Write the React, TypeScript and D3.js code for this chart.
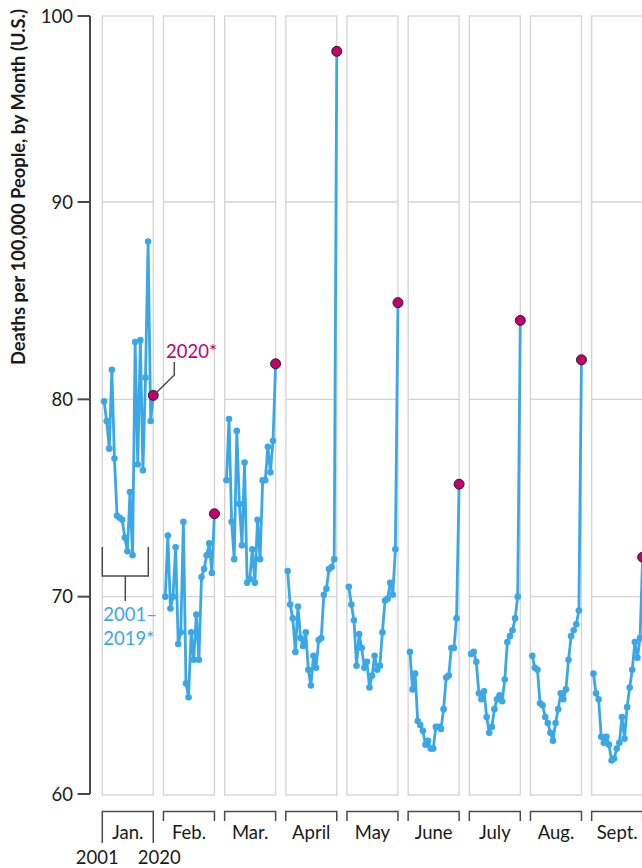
import React from "react";
import * as d3 from "d3";

const months = ["Jan.", "Feb.", "Mar.", "April", "May", "June", "July", "Aug.", "Sept."];
const years = [2001, 2002, 2003, 2004, 2005, 2006, 2007, 2008, 2009, 2010, 2011, 2012, 2013, 2014, 2015, 2016, 2017, 2018, 2019, 2020];
const yTicks = [60, 70, 80, 90, 100];
const gridTicks = [70, 80, 90];

const jan = [79.9, 78.9, 77.5, 81.5, 77.0, 74.1, 74.0, 73.9, 73.0, 72.3, 75.3, 72.1, 82.9, 76.7, 83.0, 76.4, 81.1, 88.0, 78.9, 80.2];
const feb = [70.0, 73.1, 69.4, 70.0, 72.5, 67.6, 68.2, 73.8, 65.6, 64.9, 68.2, 66.8, 69.1, 66.8, 71.0, 71.4, 72.1, 72.7, 71.2, 74.2];
const mar = [75.9, 79.0, 73.8, 71.9, 78.4, 74.7, 72.6, 76.8, 70.7, 70.9, 72.4, 70.7, 73.9, 71.9, 75.9, 75.9, 77.6, 76.3, 77.9, 81.8];
const apr = [71.3, 69.6, 68.9, 67.2, 69.5, 67.9, 67.5, 68.2, 66.3, 65.5, 67.0, 66.4, 67.8, 67.9, 70.1, 70.4, 71.4, 71.5, 71.9, 98.1];
const may = [70.5, 69.6, 68.8, 66.5, 68.1, 67.4, 66.4, 66.7, 65.4, 66.0, 67.0, 66.3, 66.5, 68.2, 69.8, 69.9, 70.7, 70.1, 72.4, 84.9];
const jun = [67.2, 65.3, 66.1, 63.7, 63.5, 63.2, 62.5, 62.7, 62.3, 62.3, 63.4, 63.4, 63.3, 64.3, 65.9, 66.0, 67.4, 67.4, 68.9, 75.7];
const jul = [67.1, 67.2, 66.7, 65.1, 64.8, 65.2, 63.9, 63.1, 63.4, 64.3, 64.8, 65.0, 64.7, 65.8, 67.7, 68.0, 68.3, 68.9, 70.0, 84.0];
const aug = [67.0, 66.4, 66.3, 64.6, 64.5, 63.9, 63.6, 63.1, 62.7, 63.6, 64.3, 65.1, 64.8, 65.3, 66.8, 68.0, 68.3, 68.6, 69.3, 82.0];
const sep = [66.1, 65.1, 64.8, 62.9, 62.6, 62.9, 62.5, 61.7, 61.8, 62.3, 62.6, 63.9, 62.8, 64.4, 65.4, 66.3, 67.7, 66.9, 67.9, 72.0];

const series = [jan, feb, mar, apr, may, jun, jul, aug, sep];

const BLUE = "#3aa8e6";
const MAGENTA = "#c4006f";
const GRID = "#d3d3d3";
const AXIS = "#4a4a4a";
const FONT = "Lato, 'Open Sans', sans-serif";

export default function App() {
  const W = 642;
  const H = 868;
  const axisX = 90;
  const x0 = 102.3;
  const step = 61.17;

  const band = d3
    .scaleBand<string>()
    .domain(months)
    .range([x0, x0 + step * (months.length - 1 / 6)])
    .paddingInner(1 / 6)
    .paddingOuter(0);

  const y = d3.scaleLinear().domain([60, 90, 100]).range([794, 202, 16]);
  const bw = band.bandwidth();

  return (
    <svg
      width={W}
      height={H}
      style={{ position: "absolute", left: 0, top: 0, background: "#fff" }}
      fontFamily={FONT}
    >
      {/* panels */}
      {months.map((m) => {
        const left = band(m)!;
        return (
          <g key={m}>
            <rect x={left} y={y(100)} width={bw} height={y(60) - y(100) + 1} fill="none" stroke={GRID} strokeWidth={1.3} />
            {gridTicks.map((t) => (
              <line key={t} x1={left} x2={left + bw} y1={y(t)} y2={y(t)} stroke={GRID} strokeWidth={1.3} />
            ))}
          </g>
        );
      })}

      {/* y axis */}
      <line x1={axisX} x2={axisX} y1={y(100)} y2={y(60)} stroke={AXIS} strokeWidth={2} />
      {yTicks.map((t) => (
        <g key={t}>
          <line x1={axisX - 12.5} x2={axisX} y1={y(t)} y2={y(t)} stroke={AXIS} strokeWidth={2} />
          <text x={axisX - 17} y={y(t) + 6.5} textAnchor="end" fontSize={18.5} fill="#1a1a1a">
            {t}
          </text>
        </g>
      ))}
      <text
        transform={`translate(25, 187) rotate(-90)`}
        textAnchor="middle"
        fontSize={18.6}
        fontWeight="bold"
        fill="#1a1a1a"
        textLength={356}
        lengthAdjust="spacingAndGlyphs"
      >
        Deaths per 100,000 People, by Month (U.S.)
      </text>

      {/* series */}
      {months.map((m, i) => {
        const left = band(m)!;
        const xs = d3.scaleLinear().domain([years[0], years[years.length - 1]]).range([left + 1.8, left + bw]);
        const vals = series[i];
        const pts = years.map((yr, k) => [xs(yr), y(vals[k])] as [number, number]);
        const line = d3.line()(pts) || "";
        return (
          <g key={m}>
            <path d={line} fill="none" stroke={BLUE} strokeWidth={2.8} strokeLinejoin="round" />
            {pts.slice(0, pts.length - 1).map((p, k) => (
              <circle key={k} cx={p[0]} cy={p[1]} r={3.3} fill={BLUE} />
            ))}
            <circle cx={pts[pts.length - 1][0]} cy={pts[pts.length - 1][1]} r={5} fill={MAGENTA} stroke="#222" strokeWidth={1} />
          </g>
        );
      })}

      {/* month brackets */}
      {months.map((m, i) => {
        const left = band(m)!;
        const right = left + bw;
        const ext = i === 0 ? 843 : 821;
        return (
          <g key={m}>
            <path d={`M${left},${ext}V811.5H${right}V${ext}`} fill="none" stroke={AXIS} strokeWidth={1.5} />
            <text x={left + bw / 2} y={839} textAnchor="middle" fontSize={18.5} fill="#1a1a1a">
              {m}
            </text>
          </g>
        );
      })}
      <text x={band(months[0])! - 5} y={864} textAnchor="middle" fontSize={18.5} fill="#1a1a1a">
        {years[0]}
      </text>
      <text x={band(months[0])! + bw + 6} y={864} textAnchor="middle" fontSize={18.5} fill="#1a1a1a">
        {years[years.length - 1]}
      </text>

      {/* annotations in Jan. */}
      <path
        d={`M${band(months[0])!},547V576H${band(months[0])! + 46}V547M${band(months[0])! + 23},576V601`}
        fill="none"
        stroke={AXIS}
        strokeWidth={1.5}
      />
      <text x={band(months[0])! + 1} y={621} fontSize={18.5} fill={BLUE}>
        2001–
      </text>
      <text x={band(months[0])! + 1} y={645} fontSize={18.5} fill={BLUE}>
        2019*
      </text>
      <path d="M174.3,362V375L156,393" fill="none" stroke={AXIS} strokeWidth={1.5} />
      <text x={166} y={358} fontSize={18.5} fill={MAGENTA}>
        2020*
      </text>
    </svg>
  );
}
